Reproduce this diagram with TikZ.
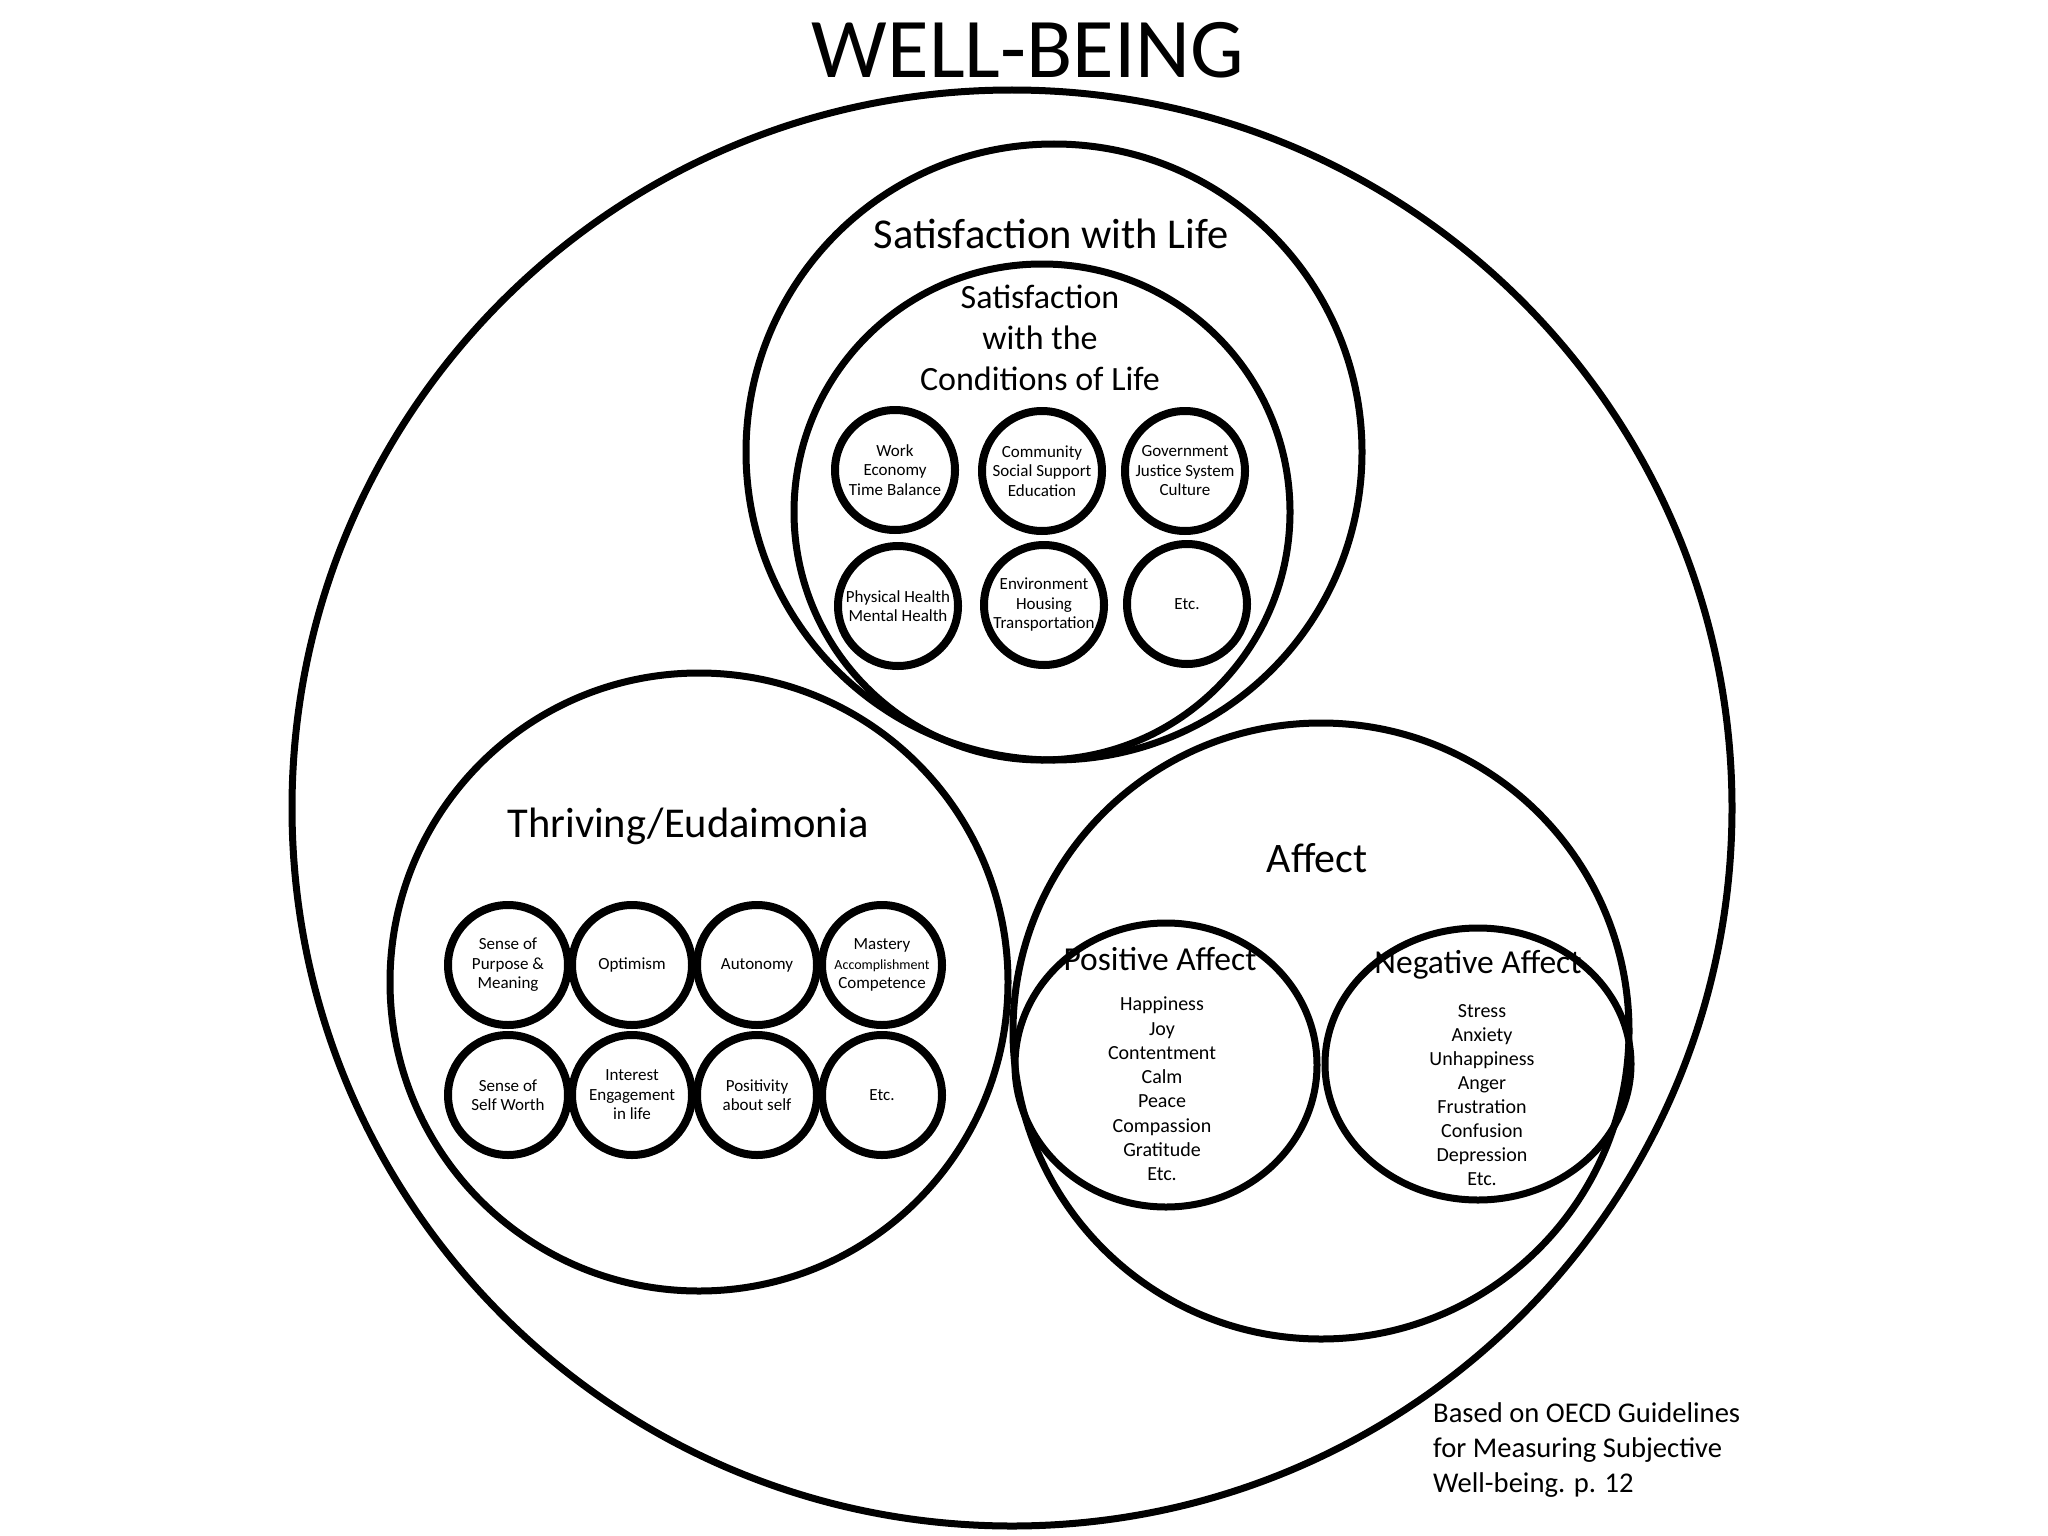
\documentclass[tikz,border=0pt]{standalone}
\usepackage{fontspec}
\setmainfont{Carlito}
\usetikzlibrary{shapes.geometric}
\begin{document}
\begin{tikzpicture}[x=1pt,y=-1pt,
  big/.style={draw, line width=7pt},
  item/.style={circle, draw, line width=8pt, minimum size=120pt, inner sep=0pt, align=center,
    font=\fontsize{17}{19.5}\selectfont},
  lbl/.style={anchor=base, inner sep=0pt},
  ]
\fill[white] (0,0) rectangle (2048,1536);
\useasboundingbox (0,0) rectangle (2048,1536);

% title
\node[lbl, font=\fontsize{85}{90}\selectfont] (title) at (1028,78) {WELL-BEING};

% outer circle
\draw[big] (1012,808) ellipse [x radius=720pt, y radius=718pt];

% satisfaction with life
\draw[big] (1054,452) circle [radius=308pt];
\draw[big] (1042,512) circle [radius=248pt];
\node[lbl, font=\fontsize{42.5}{46}\selectfont] (swl) at (1051,248) {Satisfaction with Life};
\node[align=center, inner sep=0pt, font=\fontsize{34}{41}\selectfont] (swc) at (1040,338) {Satisfaction\\with the\\Conditions of Life};

\node[item] (work) at (895,470) {Work\\Economy\\Time Balance};
\node[item] (comm) at (1042,471) {Community\\Social Support\\Education};
\node[item] (gov) at (1185,471) {Government\\Justice System\\Culture};
\node[item] (health) at (898,606) {Physical Health\\Mental Health};
\node[item] (env) at (1044,605) {Environment\\Housing\\Transportation};
\node[item] (cetc) at (1187,604) {Etc.};

% thriving
\draw[big] (699,982) circle [radius=309pt];
\node[lbl, font=\fontsize{42.5}{46}\selectfont] (thr) at (688,837) {Thriving/Eudaimonia};
\node[item] (purpose) at (508,965) {Sense of\\Purpose \&\\Meaning};
\node[item] (optimism) at (632,965) {Optimism};
\node[item] (autonomy) at (757,965) {Autonomy};
\node[item] (mastery) at (882,965) {Mastery\\{\fontsize{14}{16}\selectfont Accomplishment}\\Competence};
\node[item] (worth) at (508,1095) {Sense of\\Self Worth};
\node[item] (interest) at (632,1095) {Interest\\Engagement\\in life};
\node[item] (positivity) at (757,1095) {Positivity\\about self};
\node[item] (tetc) at (882,1095) {Etc.};

% affect
\draw[big] (1321,1031) circle [radius=308pt];
\node[lbl, font=\fontsize{42}{46}\selectfont] (aff) at (1317,872) {Affect};
\draw[big] (1166,1065) ellipse [x radius=151pt, y radius=142pt];
\draw[big] (1478,1064) ellipse [x radius=153pt, y radius=136pt];
\node[lbl, font=\fontsize{33.5}{40}\selectfont] (pos) at (1160,970) {Positive Affect};
\node[lbl, font=\fontsize{33.5}{40}\selectfont] (neg) at (1478,973) {Negative Affect};
\node[align=center, inner sep=0pt, font=\fontsize{20}{24.3}\selectfont] (posl) at (1162,1089)
  {Happiness\\Joy\\Contentment\\Calm\\Peace\\Compassion\\Gratitude\\Etc.};
\node[align=center, inner sep=0pt, font=\fontsize{20}{24.1}\selectfont] (negl) at (1482,1095)
  {Stress\\Anxiety\\Unhappiness\\Anger\\Frustration\\Confusion\\Depression\\Etc.};

% footnote
\node[anchor=base west, align=left, inner sep=0pt, font=\fontsize{28.6}{35}\selectfont] (note) at (1433,1492)
  {Based on OECD Guidelines\\for Measuring Subjective\\Well-being. p. 12};
\end{tikzpicture}
\end{document}
